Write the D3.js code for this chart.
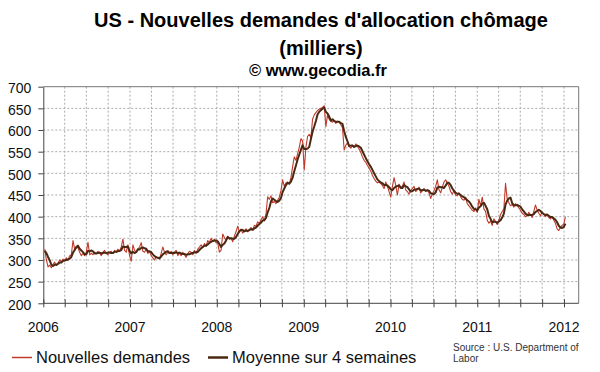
<!DOCTYPE html>
<html>
<head>
<meta charset="utf-8">
<script src="https://cdn.jsdelivr.net/npm/d3@7"></script>
<style>
  body { margin: 0; background: #fff; }
  svg { font-family: Arial, "Liberation Sans", sans-serif; }
</style>
</head>
<body>
<svg id="chart" width="600" height="372"></svg>
<script>
// Weekly initial claims (thousands), one array per year, weeks ending Saturday from 2006-01-07
const claims2006 = [325, 300, 284, 288, 282, 290, 295, 287, 293, 300, 296, 302, 298, 305, 300, 310, 312, 345, 325, 332, 328, 318, 310, 315, 310, 318, 341, 312, 316, 312, 318, 315, 320, 316, 310, 318, 322, 315, 312, 318, 320, 315, 322, 318, 325, 320, 330, 348, 322, 318, 335, 310];
const claims2007 = [297, 335, 322, 318, 325, 330, 340, 320, 318, 325, 315, 320, 310, 305, 300, 308, 305, 302, 315, 330, 318, 312, 318, 315, 320, 312, 318, 322, 310, 316, 310, 318, 312, 306, 315, 320, 318, 312, 322, 316, 325, 330, 335, 328, 338, 332, 345, 340, 350, 342, 348, 340];
const claims2008 = [340, 318, 322, 360, 352, 345, 355, 348, 350, 342, 355, 365, 378, 365, 370, 362, 368, 372, 365, 370, 375, 368, 380, 378, 388, 385, 392, 400, 390, 405, 446, 440, 448, 432, 435, 430, 438, 445, 460, 485, 470, 478, 480, 475, 490, 515, 538, 530, 545, 560, 580, 575];
const claims2009 = [508, 560, 585, 590, 582, 625, 635, 640, 645, 648, 650, 652, 656, 608, 635, 625, 620, 618, 622, 615, 620, 618, 612, 605, 554, 565, 570, 562, 558, 565, 560, 568, 562, 556, 548, 538, 530, 525, 518, 512, 505, 495, 488, 482, 478, 480, 476, 472, 465, 480, 470, 458];
const claims2010 = [445, 470, 490, 472, 450, 475, 468, 470, 480, 462, 458, 452, 460, 465, 470, 458, 462, 468, 455, 460, 465, 458, 462, 455, 442, 452, 460, 470, 485, 462, 455, 468, 480, 485, 478, 470, 458, 452, 460, 450, 448, 455, 446, 440, 438, 445, 430, 425, 420, 415, 412, 420];
const claims2011 = [410, 440, 425, 445, 418, 412, 392, 385, 390, 380, 395, 388, 382, 392, 405, 412, 418, 477, 440, 432, 425, 428, 422, 430, 426, 420, 415, 408, 405, 400, 402, 410, 405, 398, 412, 427, 415, 408, 402, 410, 405, 400, 404, 398, 395, 400, 392, 385, 372, 368, 375, 380];
const claims2012 = [382, 400];

// 4-week moving average, same weeks
const avg2006 = [321, 316, 307, 299, 289, 286, 289, 289, 291, 294, 294, 298, 299, 300, 301, 303, 307, 317, 323, 329, 333, 326, 322, 318, 313, 313, 321, 320, 322, 320, 315, 315, 316, 317, 315, 316, 317, 316, 317, 317, 316, 316, 319, 319, 320, 321, 323, 331, 330, 330, 331, 321];
const avg2007 = [315, 319, 316, 318, 325, 324, 328, 329, 327, 326, 320, 320, 318, 313, 309, 306, 305, 304, 308, 313, 316, 319, 320, 316, 316, 316, 316, 318, 316, 317, 315, 314, 314, 312, 313, 313, 315, 316, 318, 317, 319, 323, 327, 330, 333, 333, 336, 339, 342, 344, 345, 345];
const avg2008 = [343, 337, 330, 335, 338, 345, 353, 350, 350, 349, 349, 353, 360, 366, 370, 369, 366, 368, 367, 369, 371, 370, 373, 375, 379, 383, 386, 391, 392, 397, 410, 420, 435, 442, 439, 436, 434, 437, 443, 457, 465, 473, 478, 476, 481, 490, 505, 518, 532, 543, 554, 565];
const avg2009 = [556, 556, 557, 561, 579, 596, 608, 621, 636, 642, 646, 649, 652, 642, 638, 631, 622, 625, 621, 619, 619, 619, 616, 614, 597, 584, 574, 563, 564, 564, 561, 563, 564, 562, 559, 551, 543, 535, 528, 521, 515, 508, 500, 493, 486, 482, 479, 477, 473, 473, 472, 468];
const avg2010 = [463, 461, 466, 469, 471, 472, 466, 466, 473, 470, 468, 463, 458, 459, 462, 463, 464, 465, 461, 461, 462, 460, 461, 460, 454, 453, 452, 456, 467, 469, 468, 468, 466, 472, 478, 478, 473, 465, 460, 455, 453, 453, 450, 447, 445, 442, 438, 435, 430, 423, 418, 417];
const avg2011 = [414, 421, 424, 430, 432, 425, 417, 402, 395, 387, 388, 388, 386, 389, 392, 398, 407, 428, 437, 442, 444, 431, 427, 426, 427, 425, 423, 417, 412, 407, 404, 404, 404, 404, 406, 411, 413, 416, 413, 409, 406, 404, 405, 402, 399, 399, 396, 393, 387, 379, 375, 374];
const avg2012 = [376, 384];

const yTicks = [200, 250, 300, 350, 400, 450, 500, 550, 600, 650, 700];
const yearLabels = ["2006", "2007", "2008", "2009", "2010", "2011", "2012"];

const titleLines = ["US - Nouvelles demandes d'allocation chômage", "(milliers)"];
const subtitle = "© www.gecodia.fr";
const seriesNames = ["Nouvelles demandes", "Moyenne sur 4 semaines"];
const sourceLines = ["Source : U.S. Department of", "Labor"];

const newClaims = [].concat(claims2006, claims2007, claims2008, claims2009, claims2010, claims2011, claims2012);
const movingAvg = [].concat(avg2006, avg2007, avg2008, avg2009, avg2010, avg2011, avg2012);

const firstWeek = new Date(2006, 0, 7);
const weeks = newClaims.map((v, i) => d3.timeDay.offset(firstWeek, 7 * i));

const redColor = "#c0392b";
const brownColor = "#4a2812";

const svg = d3.select("#chart");

// plot frame
let margin = {left: 43.3, right: 578.7, top: 86.7, bottom: 303.3};

let x = d3.scaleTime()
    .domain([new Date(2006, 0, 1), new Date(2012, 0, 1)])
    .range([margin.left, 564]);

let y = d3.scaleLinear()
    .domain([200, 700])
    .range([margin.bottom, margin.top]);

const quarterTicks = d3.timeMonth.every(3).range(new Date(2006, 0, 1), new Date(2012, 0, 2));

// Grid lines (dotted)
svg.append("g")
    .selectAll("line")
    .data(yTicks.filter(d => d > 200 && d < 700))
    .enter().append("line")
    .attr("x1", margin.left).attr("x2", margin.right)
    .attr("y1", d => y(d)).attr("y2", d => y(d))
    .attr("stroke", "#aaa")
    .attr("stroke-width", 1)
    .attr("stroke-dasharray", "2,2");

svg.append("g")
    .selectAll("line")
    .data(quarterTicks.slice(1))
    .enter().append("line")
    .attr("x1", d => x(d)).attr("x2", d => x(d))
    .attr("y1", margin.top).attr("y2", margin.bottom)
    .attr("stroke", "#aaa")
    .attr("stroke-width", 1)
    .attr("stroke-dasharray", "2,2");

// top and right border
svg.append("path")
    .attr("d", `M${margin.left},${margin.top}H${margin.right}V${margin.bottom}`)
    .attr("fill", "none")
    .attr("stroke", "#777")
    .attr("stroke-width", 1);

// Y axis
const yAxis = svg.append("g")
    .attr("transform", `translate(${margin.left},0)`)
    .call(d3.axisLeft(y).tickValues(yTicks).tickSize(5).tickPadding(7).tickSizeOuter(0));
yAxis.select(".domain").attr("stroke", "#444");
yAxis.selectAll(".tick line").attr("stroke", "#444");
yAxis.selectAll(".tick text")
    .attr("fill", "#111")
    .attr("dy", "0.42em")
    .style("font-size", "14px");

// X axis with crossing ticks
const xAxis = svg.append("g")
    .attr("transform", `translate(0,${margin.bottom})`)
    .call(d3.axisBottom(x).tickValues(quarterTicks).tickSize(4).tickFormat("").tickSizeOuter(0));
xAxis.select(".domain").attr("d", `M${margin.left},0H${margin.right}`).attr("stroke", "#444");
xAxis.selectAll(".tick line").attr("y1", -4).attr("stroke", "#444");

svg.append("g")
    .selectAll("text")
    .data(yearLabels)
    .enter().append("text")
    .attr("x", d => x(new Date(+d, 0, 1)))
    .attr("y", 331.5)
    .attr("text-anchor", "middle")
    .attr("fill", "#111")
    .style("font-size", "14px")
    .text(d => d);

// Series
const line = d3.line()
    .x((d, i) => x(weeks[i]))
    .y(d => y(d));

svg.append("path")
    .datum(newClaims)
    .attr("d", line)
    .attr("fill", "none")
    .attr("stroke", redColor)
    .attr("stroke-width", 1.1)
    .attr("stroke-linejoin", "round");

svg.append("path")
    .datum(movingAvg)
    .attr("d", line)
    .attr("fill", "none")
    .attr("stroke", brownColor)
    .attr("stroke-width", 2)
    .attr("stroke-linejoin", "round");

// Title
svg.selectAll(".title")
    .data(titleLines)
    .enter().append("text")
    .attr("class", "title")
    .attr("x", 321)
    .attr("y", (d, i) => [27, 55][i])
    .attr("text-anchor", "middle")
    .style("font-size", "20px")
    .style("font-weight", "bold")
    .attr("fill", "#000")
    .text(d => d);

svg.append("text")
    .attr("x", 318)
    .attr("y", 76)
    .attr("text-anchor", "middle")
    .style("font-size", "16.5px")
    .style("font-weight", "bold")
    .attr("fill", "#000")
    .text(subtitle);

// Legend
const legendItems = [
    {name: seriesNames[0], color: redColor, width: 1.5, x: 12},
    {name: seriesNames[1], color: brownColor, width: 2.5, x: 208}
];
const legend = svg.append("g");
legendItems.forEach(item => {
    legend.append("line")
        .attr("x1", item.x).attr("x2", item.x + 20)
        .attr("y1", 357.5).attr("y2", 357.5)
        .attr("stroke", item.color)
        .attr("stroke-width", item.width);
    legend.append("text")
        .attr("x", item.x + 24)
        .attr("y", 362.5)
        .style("font-size", "16.5px")
        .attr("fill", "#111")
        .text(item.name);
});

// Source note
svg.selectAll(".source")
    .data(sourceLines)
    .enter().append("text")
    .attr("class", "source")
    .attr("x", 453)
    .attr("y", (d, i) => 350.5 + i * 11)
    .style("font-size", "10px")
    .attr("fill", "#333")
    .text(d => d);
</script>
</body>
</html>
